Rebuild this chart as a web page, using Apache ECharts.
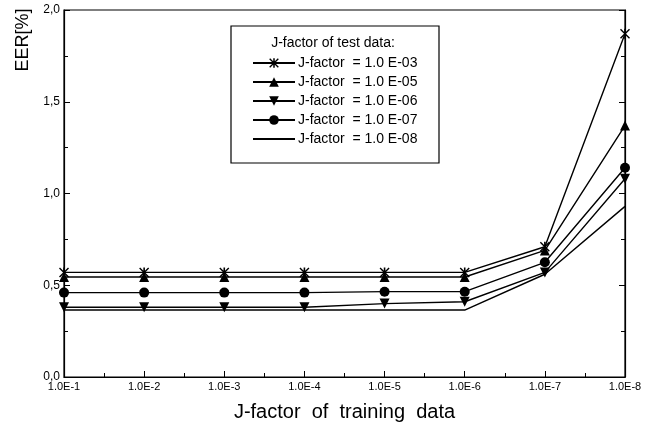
<!DOCTYPE html>
<html>
<head>
<meta charset="utf-8">
<script src="https://cdn.jsdelivr.net/npm/echarts@6/dist/echarts.min.js"></script>
<style>html,body{margin:0;padding:0;background:#fff;}#c{width:657px;height:438px;}</style>
</head>
<body>
<div id="c"></div>
<script>
var categories = ['1.0E-1','1.0E-2','1.0E-3','1.0E-4','1.0E-5','1.0E-6','1.0E-7','1.0E-8'];
var yTickLabels = ['0,0','0,5','1,0','1,5','2,0'];
var seriesNames = ['J-factor  = 1.0 E-03','J-factor  = 1.0 E-05','J-factor  = 1.0 E-06','J-factor  = 1.0 E-07','J-factor  = 1.0 E-08'];
var eer03 = [0.57, 0.57, 0.57, 0.57, 0.57, 0.57, 0.71, 1.87];
var eer05 = [0.545, 0.545, 0.545, 0.545, 0.545, 0.545, 0.69, 1.37];
var eer06 = [0.38, 0.38, 0.38, 0.38, 0.40, 0.41, 0.57, 1.08];
var eer07 = [0.46, 0.46, 0.46, 0.46, 0.465, 0.465, 0.625, 1.14];
var eer08 = [0.365, 0.365, 0.365, 0.365, 0.365, 0.365, 0.56, 0.93];
var legendTitle = 'J-factor of test data:';
var xTitle = 'J-factor  of  training  data';
var yTitle = 'EER[%]';

var asterisk = 'path://M0,1L1,0L10,9L9,10Z M9,0L10,1L1,10L0,9Z M4.2,0L5.8,0L5.8,10L4.2,10Z';
var triDown = 'path://M0,0L10,0L5,9Z';
var symbols = [asterisk, 'triangle', triDown, 'circle', 'circle'];
var sizes = [10, 10, 10, 10, 1];
var allData = [eer03, eer05, eer06, eer07, eer08];

var FONT = '"Liberation Sans Narrow", "Liberation Sans", Arial, sans-serif';

function pairs(arr){ return arr.map(function(v,i){ return [i, v]; }); }

var series = allData.map(function(d, k){
  return {
    name: seriesNames[k],
    type: 'line',
    data: pairs(d),
    symbol: symbols[k],
    symbolSize: sizes[k],
    showSymbol: k < 4,
    lineStyle: {color: '#000', width: 1.4},
    itemStyle: k < 4 ? {color: '#000'} : {color: 'rgba(0,0,0,0)', borderWidth: 0},
    animation: false,
    z: 3
  };
});

var chart = echarts.init(document.getElementById('c'), null, {renderer: 'canvas'});
chart.setOption({
  backgroundColor: '#fff',
  animation: false,
  grid: {left: 64, right: 32, top: 10, bottom: 61, show: true, borderColor: '#000', borderWidth: 1.2, containLabel: false},
  xAxis: {
    type: 'value', min: 0, max: 7, interval: 1,
    name: xTitle, nameLocation: 'middle', nameGap: 25,
    nameTextStyle: {fontFamily: 'Liberation Sans, Arial, sans-serif', fontSize: 20, color: '#000', letterSpacing: 1.2},
    axisLine: {lineStyle: {color: '#000', width: 1.2}},
    axisTick: {inside: true, length: 6, lineStyle: {color: '#000'}},
    minorTick: {show: true, splitNumber: 2, length: 4, lineStyle: {color: '#000'}},
    splitLine: {show: false},
    axisLabel: {formatter: function(v){ return categories[Math.round(v)] || ''; }, color: '#000', fontFamily: FONT, fontSize: 11, margin: 4, letterSpacing: -0.5}
  },
  yAxis: [{
    type: 'value', min: 0, max: 2, interval: 0.5,
    axisLine: {show: true, lineStyle: {color: '#000', width: 1.2}},
    axisTick: {show: true, inside: true, length: 6, lineStyle: {color: '#000'}},
    minorTick: {show: true, splitNumber: 2, length: 4, lineStyle: {color: '#000'}},
    splitLine: {show: false},
    axisLabel: {formatter: function(v){ return yTickLabels[Math.round(v*2)]; }, color: '#000', fontFamily: FONT, fontSize: 12, margin: 4}
  },{
    type: 'value', min: 0, max: 2, interval: 0.5, position: 'right',
    axisLine: {show: true, lineStyle: {color: '#000', width: 1.2}},
    axisTick: {show: true, inside: true, length: 6, lineStyle: {color: '#000'}},
    minorTick: {show: true, splitNumber: 2, length: 4, lineStyle: {color: '#000'}},
    splitLine: {show: false},
    axisLabel: {show: false}
  }],
  legend: {
    orient: 'vertical', left: 252, top: 56,
    itemWidth: 42, itemHeight: 12, itemGap: 5,
    padding: 0,
    textStyle: {color: '#000', fontFamily: FONT, fontSize: 14, padding: [0,0,0,-2]},
    data: seriesNames,
    z: 10
  },
  graphic: [
    {type: 'rect', shape: {x: 231, y: 26, width: 208, height: 137}, style: {fill: '#fff', stroke: '#000', lineWidth: 1.2}, z: 5},
    {type: 'text', x: 333, y: 43, style: {text: legendTitle, fill: '#000', font: '14px ' + FONT, textAlign: 'center', textVerticalAlign: 'middle'}, z: 11},
    {type: 'text', x: 23, y: 40, rotation: Math.PI/2, style: {text: yTitle, fill: '#000', font: '18px "Liberation Sans", Arial, sans-serif', textAlign: 'center', textVerticalAlign: 'middle'}, z: 11}
  ],
  series: series
});
</script>
</body>
</html>
